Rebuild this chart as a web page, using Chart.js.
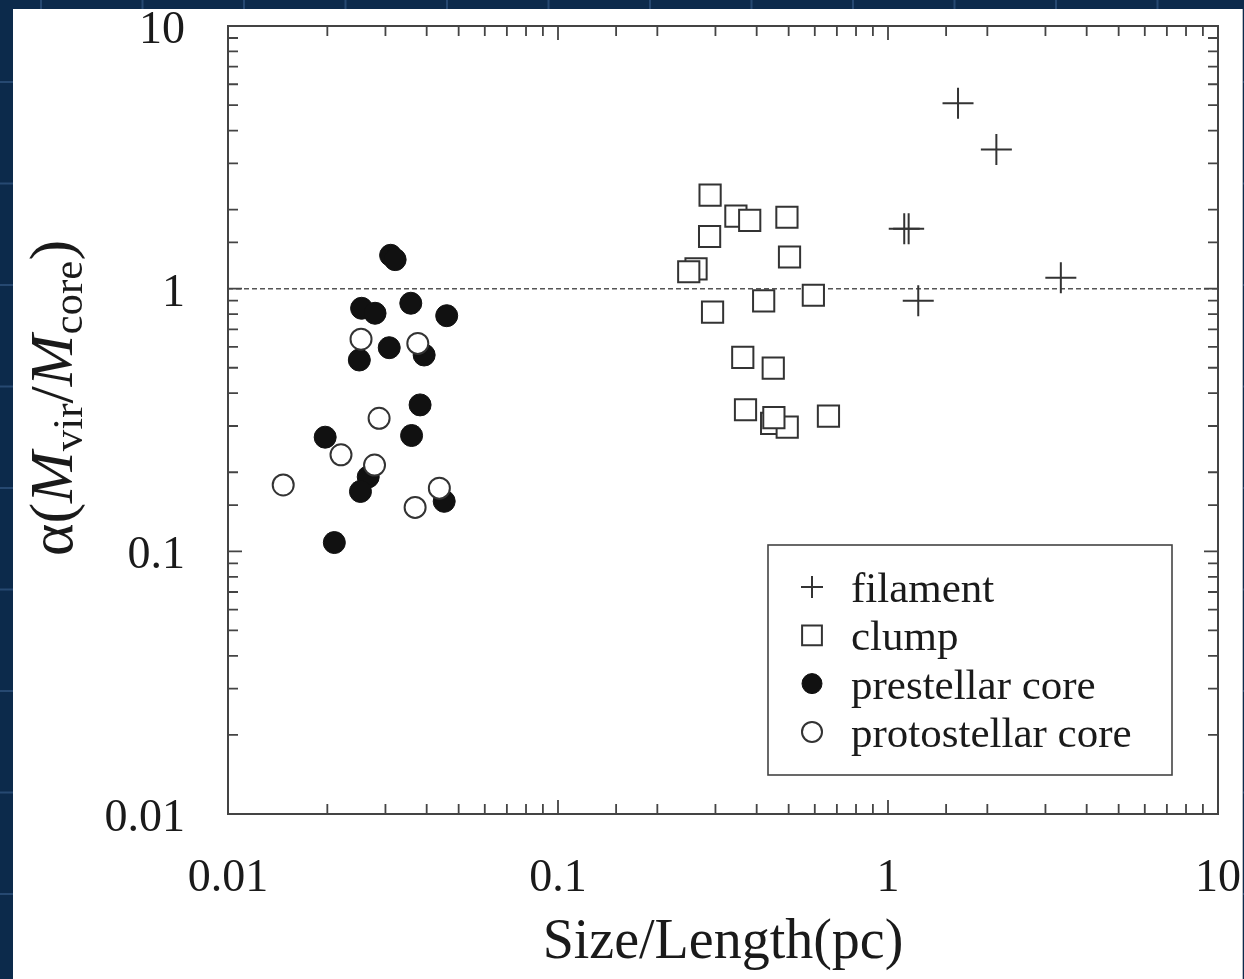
<!DOCTYPE html>
<html>
<head>
<meta charset="utf-8">
<script src="https://cdn.jsdelivr.net/npm/chart.js@4.4.1/dist/chart.umd.min.js"></script>
<style>
  body {
    margin: 0;
    width: 1244px;
    height: 979px;
    overflow: hidden;
    background-color: #0c2a4b;
    background-image:
      linear-gradient(to right, rgba(70, 110, 160, 0.45) 2px, transparent 2px),
      linear-gradient(to bottom, rgba(70, 110, 160, 0.45) 2px, transparent 2px);
    background-size: 101.5px 101.5px;
    background-position: 40px 81px;
  }
  #panel {
    position: absolute;
    left: 13px;
    top: 9px;
    width: 1229px;
    height: 970px;
    background: #fff;
    border-right: 1px solid #b8bcc4;
  }
  #chart {
    position: absolute;
    left: 0;
    top: 0;
  }
</style>
</head>
<body>
<div id="panel"></div>
<canvas id="chart" width="1244" height="979"></canvas>
<script>
// values (size in pc, virial parameter alpha)
const filamentSize = [1.63, 2.13, 1.12, 1.155, 1.235, 3.34];
const filamentAlpha = [5.08, 3.39, 1.69, 1.69, 0.90, 1.10];

const clumpSize = [0.289, 0.346, 0.381, 0.494, 0.288, 0.503, 0.262, 0.249, 0.420, 0.594,
                   0.294, 0.363, 0.449, 0.444, 0.495, 0.451, 0.370, 0.660];
const clumpAlpha = [2.27, 1.89, 1.82, 1.87, 1.58, 1.32, 1.19, 1.16, 0.898, 0.944,
                    0.814, 0.548, 0.498, 0.307, 0.297, 0.323, 0.346, 0.327];

const prestellarSize = [0.0311, 0.0321, 0.0254, 0.0279, 0.0358, 0.0460, 0.0250, 0.0308,
                        0.0393, 0.0382, 0.0197, 0.0360, 0.0266, 0.0252, 0.0452, 0.0210];
const prestellarAlpha = [1.34, 1.29, 0.842, 0.806, 0.880, 0.789, 0.535, 0.596,
                         0.559, 0.361, 0.272, 0.276, 0.192, 0.169, 0.155, 0.108];

const protostellarSize = [0.0253, 0.0376, 0.0287, 0.0220, 0.0278, 0.0147, 0.0437, 0.0369];
const protostellarAlpha = [0.642, 0.619, 0.321, 0.233, 0.213, 0.179, 0.174, 0.147];

const refLineX = [0.01, 10];
const refLineY = [1, 1];

const seriesNames = ['filament', 'clump', 'prestellar core', 'protostellar core'];
const decades = [0.01, 0.1, 1, 10];
const tickLabels = ['0.01', '0.1', '1', '10'];

const SERIF = '"Liberation Serif", "Times New Roman", serif';
const INK = '#1a1a1a';
const FRAME = '#444';

Chart.defaults.font.family = SERIF;

function toPoints(xs, ys) {
    return xs.map((x, i) => ({ x: x, y: ys[i] }));
}

function decadeIndex(v) {
    for (let i = 0; i < decades.length; i++) {
        if (Math.abs(Math.log10(v) - Math.log10(decades[i])) < 1e-6) return i;
    }
    return -1;
}

function decadeLabel(value) {
    let i = decadeIndex(value);
    return i >= 0 ? tickLabels[i] : '';
}

// inward ticks on all four sides plus the frame
const frameTicks = {
    id: 'frameTicks',
    afterDatasetsDraw(chart) {
        const ctx = chart.ctx;
        const a = chart.chartArea;
        const xs = chart.scales.x, ys = chart.scales.y;
        ctx.save();
        ctx.strokeStyle = FRAME;
        ctx.lineWidth = 2;
        ctx.strokeRect(a.left, a.top, a.right - a.left, a.bottom - a.top);
        ctx.lineWidth = 1.8;
        ctx.beginPath();
        for (let t of xs.ticks) {
            let px = xs.getPixelForValue(t.value);
            let len = decadeIndex(t.value) >= 0 ? 14 : 10;
            ctx.moveTo(px, a.bottom);
            ctx.lineTo(px, a.bottom - len);
            ctx.moveTo(px, a.top);
            ctx.lineTo(px, a.top + len);
        }
        for (let t of ys.ticks) {
            let py = ys.getPixelForValue(t.value);
            let len = decadeIndex(t.value) >= 0 ? 14 : 10;
            ctx.moveTo(a.left, py);
            ctx.lineTo(a.left + len, py);
            ctx.moveTo(a.right, py);
            ctx.lineTo(a.right - len, py);
        }
        ctx.stroke();
        ctx.restore();
    }
};

// y title with italic M and subscripts
const yTitle = {
    id: 'yTitle',
    afterDraw(chart) {
        const ctx = chart.ctx;
        const a = chart.chartArea;
        const size = 62, sub = 43;
        const parts = [
            { t: 'α(', font: size + 'px ' + SERIF, dy: 0 },
            { t: 'M', font: 'italic ' + size + 'px ' + SERIF, dy: 0 },
            { t: 'vir', font: sub + 'px ' + SERIF, dy: 10 },
            { t: '/', font: size + 'px ' + SERIF, dy: 0 },
            { t: 'M', font: 'italic ' + size + 'px ' + SERIF, dy: 0 },
            { t: 'core', font: sub + 'px ' + SERIF, dy: 10 },
            { t: ')', font: size + 'px ' + SERIF, dy: 0 }
        ];
        ctx.save();
        let total = 0;
        for (let p of parts) {
            ctx.font = p.font;
            p.w = ctx.measureText(p.t).width;
            total += p.w;
        }
        ctx.translate(a.left - 156, (a.top + a.bottom) / 2 - 22);
        ctx.rotate(-Math.PI / 2);
        ctx.fillStyle = INK;
        ctx.textBaseline = 'alphabetic';
        let x = -total / 2;
        for (let p of parts) {
            ctx.font = p.font;
            ctx.fillText(p.t, x, p.dy);
            x += p.w;
        }
        ctx.restore();
    }
};

// boxed legend inside the plot
const boxLegend = {
    id: 'boxLegend',
    afterDraw(chart) {
        const ctx = chart.ctx;
        const box = { left: 768, top: 545, right: 1172, bottom: 775 };
        ctx.save();
        ctx.fillStyle = '#fff';
        ctx.fillRect(box.left, box.top, box.right - box.left, box.bottom - box.top);
        ctx.strokeStyle = FRAME;
        ctx.lineWidth = 1.6;
        ctx.strokeRect(box.left, box.top, box.right - box.left, box.bottom - box.top);
        const symR = [11, 14, 10, 10];
        for (let i = 0; i < seriesNames.length; i++) {
            const ds = chart.data.datasets[i];
            const baseY = box.top + 57 + i * 48.3;
            const symY = baseY - 15;
            ctx.fillStyle = ds.backgroundColor;
            ctx.strokeStyle = ds.borderColor;
            ctx.lineWidth = ds.borderWidth;
            Chart.helpers.drawPoint(ctx, {
                pointStyle: ds.pointStyle,
                radius: symR[i],
                borderWidth: ds.borderWidth,
                rotation: 0
            }, box.left + 44, symY);
            ctx.fillStyle = INK;
            ctx.font = '43px ' + SERIF;
            ctx.textBaseline = 'alphabetic';
            ctx.textAlign = 'left';
            ctx.fillText(seriesNames[i], box.left + 83, baseY);
        }
        ctx.restore();
    }
};

const chart = new Chart(document.getElementById('chart'), {
    type: 'scatter',
    data: {
        datasets: [
            {
                label: seriesNames[0],
                data: toPoints(filamentSize, filamentAlpha),
                pointStyle: 'cross',
                pointRadius: 15.5,
                borderColor: '#333',
                backgroundColor: 'rgba(0,0,0,0)',
                borderWidth: 2,
                order: 3
            },
            {
                label: seriesNames[1],
                data: toPoints(clumpSize, clumpAlpha),
                pointStyle: 'rect',
                pointRadius: 15,
                borderColor: '#333',
                backgroundColor: '#fff',
                borderWidth: 2,
                order: 2
            },
            {
                label: seriesNames[2],
                data: toPoints(prestellarSize, prestellarAlpha),
                pointStyle: 'circle',
                pointRadius: 11,
                borderColor: '#111',
                backgroundColor: '#111',
                borderWidth: 1,
                order: 1
            },
            {
                label: seriesNames[3],
                data: toPoints(protostellarSize, protostellarAlpha),
                pointStyle: 'circle',
                pointRadius: 10.5,
                borderColor: '#333',
                backgroundColor: '#fff',
                borderWidth: 2,
                order: 0
            },
            {
                type: 'line',
                label: 'alpha = 1',
                data: toPoints(refLineX, refLineY),
                borderColor: '#555',
                borderWidth: 1.5,
                borderDash: [5, 3],
                pointRadius: 0,
                fill: false,
                order: 10
            }
        ]
    },
    options: {
        responsive: false,
        animation: false,
        events: [],
        layout: { padding: { top: 26, right: 26, left: 0, bottom: 0 } },
        plugins: {
            legend: { display: false },
            tooltip: { enabled: false }
        },
        scales: {
            x: {
                type: 'logarithmic',
                position: 'bottom',
                min: 0.01,
                max: 10,
                grid: { display: false, drawTicks: false },
                border: { display: false },
                ticks: {
                    autoSkip: false,
                    maxRotation: 0,
                    padding: 37,
                    color: INK,
                    font: { family: SERIF, size: 46 },
                    callback: decadeLabel
                },
                title: {
                    display: true,
                    text: 'Size/Length(pc)',
                    color: INK,
                    font: { family: SERIF, size: 56 },
                    padding: { top: 0, bottom: 2 }
                },
                afterFit(scale) {
                    scale.height = 165;
                    scale.paddingLeft = 0;
                    scale.paddingRight = 0;
                }
            },
            y: {
                type: 'logarithmic',
                position: 'left',
                min: 0.01,
                max: 10,
                grid: { display: false, drawTicks: false },
                border: { display: false },
                ticks: {
                    autoSkip: false,
                    padding: 43,
                    labelOffset: 5,
                    color: INK,
                    font: { family: SERIF, size: 46 },
                    callback: decadeLabel
                },
                afterFit(scale) {
                    scale.width = 228;
                    scale.paddingTop = 0;
                    scale.paddingBottom = 0;
                }
            }
        }
    },
    plugins: [frameTicks, yTitle, boxLegend]
});
</script>
</body>
</html>
